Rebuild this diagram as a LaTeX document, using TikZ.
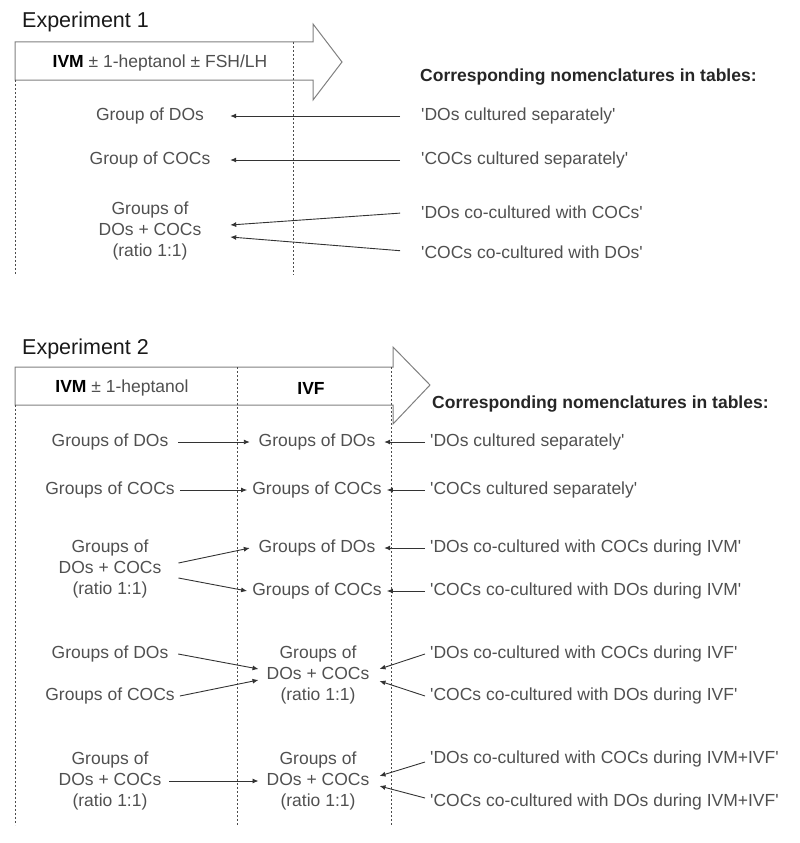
\documentclass[tikz,border=0pt]{standalone}
\usepackage{fontspec}
\setmainfont{Liberation Sans}
\usetikzlibrary{arrows.meta,calc}
\definecolor{txtgray}{HTML}{505050}
\definecolor{linegray}{HTML}{333333}
\definecolor{boxgray}{HTML}{808080}

\begin{document}
\begin{tikzpicture}[x=1pt, y=-1pt,
	lbl/.style={text=txtgray, font=\fontsize{17.5}{21}\selectfont, inner sep=5pt, align=center},
	nom/.style={lbl, anchor=west, align=left},
	grp/.style={lbl, inner xsep=8pt},
	hdr/.style={text=black!85, font=\bfseries\fontsize{17.5}{21}\selectfont, anchor=west, inner sep=0pt},
	ttl/.style={text=black!90, font=\fontsize{21.5}{26}\selectfont, anchor=west, inner sep=0pt},
	conn/.style={draw=linegray, line width=0.9pt, -{Latex[length=6pt,width=5pt]}},
	bigarrow/.style={draw=boxgray, line width=1pt, fill=white},
	guide/.style={draw=black!70, line width=0.8pt, dash pattern=on 2pt off 2pt}]
	\useasboundingbox (0,0) rectangle (800,843);

	% Experiment 1
	\node[ttl] (exp1) at (22,22) {Experiment 1};
	\draw[bigarrow] (15,42) -- (313,42) -- (313,24) -- (342,62) 
		-- (313,100) -- (313,80) -- (15,80) -- cycle;
	\draw[guide] (15,80) -- (15,275)
		(293,42) -- (293,275);
	\node[lbl, inner sep=0pt] (ivm1) at (160,63) 
		{\textbf{\color{black}IVM} ± 1-heptanol ± FSH/LH};
	\node[hdr] (nom1) at (420,77) {Corresponding nomenclatures in tables:};

	\node[lbl, minimum width=160] (grpdo1) at (150,116) {Group of DOs};
	\node[lbl, minimum width=160] (grpcoc1) at (150,160) {Group of COCs};
	\node[lbl, minimum width=160] (mix1) at (150,231) {Groups of\\DOs + COCs\\(ratio 1:1)};

	\node[nom] (rdo1) at (416,116) {\textquotesingle DOs cultured separately\textquotesingle};
	\node[nom] (rcoc1) at (416,160) {\textquotesingle COCs cultured separately\textquotesingle};
	\node[nom] (rdomix1) at (416,212) {\textquotesingle DOs co-cultured with COCs\textquotesingle};
	\node[nom] (rcocmix1) at (416,252) {\textquotesingle COCs co-cultured with DOs\textquotesingle};

	\draw[conn, shorten <=16pt] (rdo1.west) -- (grpdo1.east);
	\draw[conn, shorten <=16pt] (rcoc1.west) -- (grpcoc1.east);
	\draw[conn, shorten <=16pt] (rdomix1.west) -- ($(mix1.east)+(0,-6)$);
	\draw[conn, shorten <=16pt] (rcocmix1.west) -- ($(mix1.east)+(0,6)$);

	% Experiment 2
	\node[ttl] (exp2) at (22,349) {Experiment 2};
	\draw[bigarrow] (15,367) -- (393,367) -- (393,347) -- (430,385) 
		-- (393,424) -- (393,405) -- (15,405) -- cycle;
	\draw[guide] (15,405) -- (15,825)
		(237,367) -- (237,825)
		(391,367) -- (391,825);
	\node[lbl, inner sep=0pt] (ivm2) at (122,388) {\textbf{\color{black}IVM} ± 1-heptanol};
	\node[lbl, inner sep=0pt, text=black] (ivf2) at (311,388) {\textbf{IVF}};
	\node[hdr] (nom2) at (432,404) {Corresponding nomenclatures in tables:};

	% IVM column
	\node[lbl, minimum width=136] (ldo1) at (110,442) {Groups of DOs};
	\node[lbl, minimum width=136] (lcoc2) at (110,490) {Groups of COCs};
	\node[grp] (lmix3) at (110,569) {Groups of\\DOs + COCs\\(ratio 1:1)};
	\node[lbl, minimum width=136] (ldo4) at (110,654) {Groups of DOs};
	\node[lbl, minimum width=136] (lcoc4) at (110,696) {Groups of COCs};
	\node[grp] (lmix5) at (110,781) {Groups of\\DOs + COCs\\(ratio 1:1)};

	% IVF column
	\node[lbl, minimum width=134] (mdo1) at (317,442) {Groups of DOs};
	\node[lbl, minimum width=134] (mcoc2) at (317,490) {Groups of COCs};
	\node[lbl, minimum width=134] (mdo3) at (317,548) {Groups of DOs};
	\node[lbl, minimum width=134] (mcoc3) at (317,591) {Groups of COCs};
	\node[grp] (mmix4) at (318,675) {Groups of\\DOs + COCs\\(ratio 1:1)};
	\node[grp] (mmix5) at (318,781) {Groups of\\DOs + COCs\\(ratio 1:1)};

	% nomenclatures
	\node[nom] (rdo1b) at (425,442) {\textquotesingle DOs cultured separately\textquotesingle};
	\node[nom] (rcoc2) at (425,490) {\textquotesingle COCs cultured separately\textquotesingle};
	\node[nom] (rdo3) at (425,548) {\textquotesingle DOs co-cultured with COCs during IVM\textquotesingle};
	\node[nom] (rcoc3) at (425,591) {\textquotesingle COCs co-cultured with DOs during IVM\textquotesingle};
	\node[nom] (rdo4) at (425,654) {\textquotesingle DOs co-cultured with COCs during IVF\textquotesingle};
	\node[nom] (rcoc4) at (425,696) {\textquotesingle COCs co-cultured with DOs during IVF\textquotesingle};
	\node[nom] (rdo5) at (425,759) {\textquotesingle DOs co-cultured with COCs during IVM+IVF\textquotesingle};
	\node[nom] (rcoc5) at (425,802) {\textquotesingle COCs co-cultured with DOs during IVM+IVF\textquotesingle};

	% IVM -> IVF
	\draw[conn] (ldo1.east) -- (mdo1.west);
	\draw[conn] (lcoc2.east) -- (mcoc2.west);
	\draw[conn] ($(lmix3.east)+(9,-6)$) -- (mdo3.west);
	\draw[conn] ($(lmix3.east)+(9,9)$) -- (mcoc3.west);
	\draw[conn] (ldo4.east) -- ($(mmix4.west)+(0,-6)$);
	\draw[conn] (lcoc4.east) -- ($(mmix4.west)+(0,5)$);
	\draw[conn] (lmix5.east) -- (mmix5.west);

	% tables -> IVF
	\draw[conn] (rdo1b.west) -- (mdo1.east);
	\draw[conn] (rcoc2.west) -- (mcoc2.east);
	\draw[conn] (rdo3.west) -- (mdo3.east);
	\draw[conn] (rcoc3.west) -- (mcoc3.east);
	\draw[conn] (rdo4.west) -- ($(mmix4.east)+(2,-6)$);
	\draw[conn] (rcoc4.west) -- ($(mmix4.east)+(2,6)$);
	\draw[conn] ($(rdo5.west)+(0,3)$) -- ($(mmix5.east)+(2,-5)$);
	\draw[conn] ($(rcoc5.west)+(0,-4)$) -- ($(mmix5.east)+(2,5)$);
\end{tikzpicture}
\end{document}
